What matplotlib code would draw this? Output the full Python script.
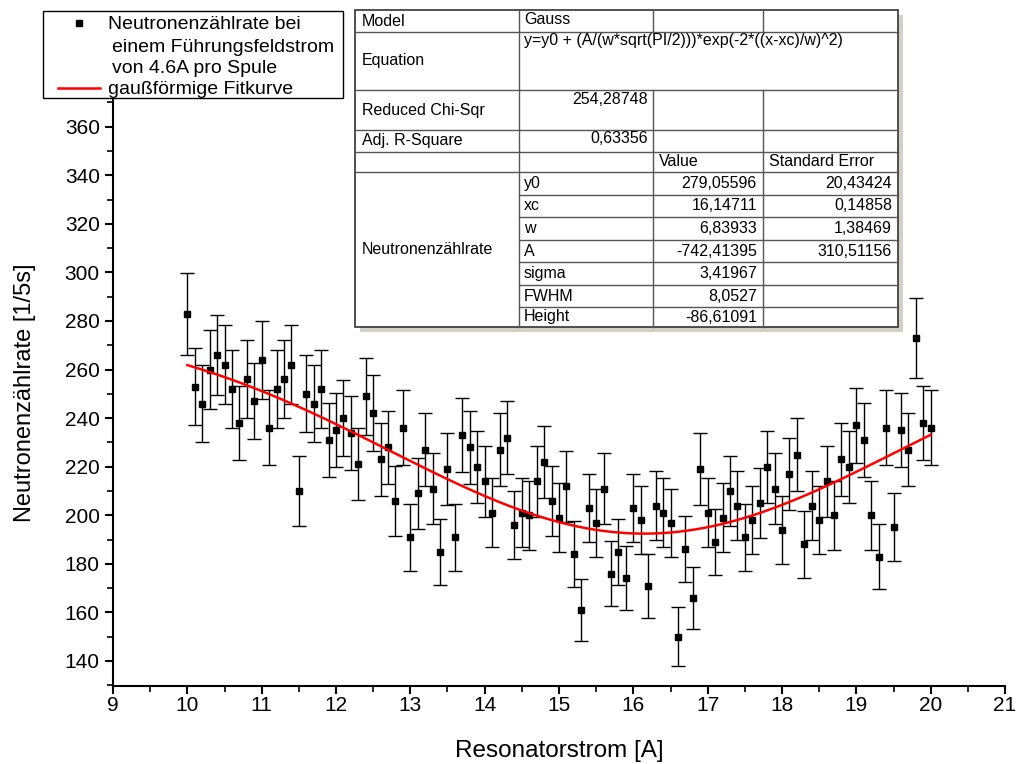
import numpy as np
import matplotlib
matplotlib.use("Agg")
import matplotlib.pyplot as plt
from matplotlib.patches import Rectangle
from matplotlib.lines import Line2D
from matplotlib.ticker import MultipleLocator

plt.rcParams['font.family'] = ['Liberation Sans', 'DejaVu Sans']

# Messdaten (Resonatorstrom in A, Zaehlrate pro 5 s)
strom = [10.0, 10.1, 10.2, 10.3, 10.4, 10.5, 10.6, 10.7, 10.8, 10.9,
         11.0, 11.1, 11.2, 11.3, 11.4, 11.5, 11.6, 11.7, 11.8, 11.9,
         12.0, 12.1, 12.2, 12.3, 12.4, 12.5, 12.6, 12.7, 12.8, 12.9,
         13.0, 13.1, 13.2, 13.3, 13.4, 13.5, 13.6, 13.7, 13.8, 13.9,
         14.0, 14.1, 14.2, 14.3, 14.4, 14.5, 14.6, 14.7, 14.8, 14.9,
         15.0, 15.1, 15.2, 15.3, 15.4, 15.5, 15.6, 15.7, 15.8, 15.9,
         16.0, 16.1, 16.2, 16.3, 16.4, 16.5, 16.6, 16.7, 16.8, 16.9,
         17.0, 17.1, 17.2, 17.3, 17.4, 17.5, 17.6, 17.7, 17.8, 17.9,
         18.0, 18.1, 18.2, 18.3, 18.4, 18.5, 18.6, 18.7, 18.8, 18.9,
         19.0, 19.1, 19.2, 19.3, 19.4, 19.5, 19.6, 19.7, 19.8, 19.9, 20.0]

rate = [283, 253, 246, 260, 266, 262, 252, 238, 256, 247,
        264, 236, 252, 256, 262, 210, 250, 246, 252, 231,
        235, 240, 234, 221, 249, 242, 223, 228, 206, 236,
        191, 209, 227, 211, 185, 219, 191, 233, 228, 220,
        214, 201, 227, 232, 196, 201, 200, 214, 222, 206,
        199, 212, 184, 161, 203, 197, 211, 176, 185, 174,
        203, 198, 171, 204, 201, 197, 150, 186, 166, 219,
        201, 189, 199, 210, 204, 191, 198, 205, 220, 211,
        194, 217, 225, 188, 204, 198, 214, 200, 223, 220,
        237, 231, 200, 183, 236, 195, 235, 227, 273, 238, 236]

fehler = [16.8, 15.9, 15.7, 16.1, 16.3, 16.2, 15.9, 15.4, 16.0, 15.7,
          16.2, 15.4, 15.9, 16.0, 16.2, 14.5, 15.8, 15.7, 15.9, 15.2,
          15.3, 15.5, 15.3, 14.9, 15.8, 15.6, 14.9, 15.1, 14.4, 15.4,
          13.8, 14.5, 15.1, 14.5, 13.6, 14.8, 13.8, 15.3, 15.1, 14.8,
          14.6, 14.2, 15.1, 15.2, 14.0, 14.2, 14.1, 14.6, 14.9, 14.4,
          14.1, 14.6, 13.6, 12.7, 14.2, 14.0, 14.5, 13.3, 13.6, 13.2,
          14.2, 14.1, 13.1, 14.3, 14.2, 14.0, 12.2, 13.6, 12.9, 14.8,
          14.2, 13.7, 14.1, 14.5, 14.3, 13.8, 14.1, 14.3, 14.8, 14.5,
          13.9, 14.7, 15.0, 13.7, 14.3, 14.1, 14.6, 14.1, 14.9, 14.8,
          15.4, 15.2, 14.1, 13.5, 15.4, 14.0, 15.3, 15.1, 16.5, 15.4, 15.4]

# Fitparameter (Gauss)
y0 = 279.05596
xc = 16.14711
w = 6.83933
A = -742.41395

# Tabelle
tab_rows = [
    ("Model", "Gauss", "", ""),
    ("Equation", "y=y0 + (A/(w*sqrt(PI/2)))*exp(-2*((x-xc)/w)^2)", "", ""),
    ("Reduced Chi-Sqr", "254,28748", "", ""),
    ("Adj. R-Square", "0,63356", "", ""),
    ("", "", "Value", "Standard Error"),
]
par_names = ["y0", "xc", "w", "A", "sigma", "FWHM", "Height"]
par_values = ["279,05596", "16,14711", "6,83933", "-742,41395", "3,41967", "8,0527", "-86,61091"]
par_errors = ["20,43424", "0,14858", "1,38469", "310,51156", "", "", ""]

W, H = 1018, 764
fig = plt.figure(figsize=(W / 100, H / 100), dpi=100)


def fx(px):
    return px / W


def fy(py):
    return 1 - py / H


ax = fig.add_axes([fx(113), fy(686), fx(1005) - fx(113), fy(100) - fy(686)])

ax.errorbar(strom, rate, yerr=fehler, fmt='s', color='black', ms=4.5,
            ecolor='black', elinewidth=1, capsize=5, capthick=1, zorder=3)

xfit = np.linspace(10, 20, 400)
yfit = y0 + (A / (w * np.sqrt(np.pi / 2))) * np.exp(-2 * ((xfit - xc) / w) ** 2)
ax.plot(xfit, yfit, color='red', lw=1.8, zorder=4)

ax.set_xlim(9, 21)
ax.set_ylim(129.7, 371)
ax.xaxis.set_major_locator(MultipleLocator(1))
ax.xaxis.set_minor_locator(MultipleLocator(0.5))
ax.yaxis.set_major_locator(MultipleLocator(20))
ax.yaxis.set_minor_locator(MultipleLocator(10))
ax.set_yticks(np.arange(140, 361, 20))
ax.spines['top'].set_visible(False)
ax.spines['right'].set_visible(False)
ax.spines['left'].set_linewidth(1.5)
ax.spines['bottom'].set_linewidth(1.5)
ax.tick_params(which='major', direction='out', length=6, width=1.5, labelsize=15)
ax.tick_params(which='minor', direction='out', length=4, width=1.2)
ax.tick_params(axis='x', which='major', pad=1)
ax.set_xlabel("Resonatorstrom [A]", fontsize=17.5, labelpad=18)
ax.set_ylabel("Neutronenzählrate [1/5s]", fontsize=17, labelpad=21)

# Legende (manuell)
fig.patches.append(Rectangle((fx(43), fy(98)), fx(343) - fx(43), fy(11) - fy(98),
                             transform=fig.transFigure, facecolor='white',
                             edgecolor='black', lw=1, zorder=5))
fig.lines.append(Line2D([fx(79)], [fy(23)], marker='s', ms=4, color='black',
                        transform=fig.transFigure, zorder=6))
fig.lines.append(Line2D([fx(58), fx(100)], [fy(88), fy(88)], color='red', lw=1.8,
                        transform=fig.transFigure, zorder=6))
leg_lines = [(108, 29, "Neutronenzählrate bei"),
             (112, 52, "einem Führungsfeldstrom"),
             (112, 73, "von 4.6A pro Spule"),
             (108, 94, "gaußförmige Fitkurve")]
for px, py, s in leg_lines:
    fig.text(fx(px), fy(py), s, fontsize=14, va='baseline', ha='left', zorder=7)

# Tabelle (manuell)
cols = [355, 519, 653, 763, 898]
rows = [10, 32, 90, 130, 152, 172, 195, 217, 240, 262, 285, 307, 327]
tx0, tx1, ty0, ty1 = cols[0], cols[-1], rows[0], rows[-1]
fig.patches.append(Rectangle((fx(tx0 + 5), fy(ty1 + 5)), fx(tx1 - tx0), fy(ty0) - fy(ty1),
                             transform=fig.transFigure, facecolor='#d4d0c8',
                             edgecolor='none', zorder=5))
fig.patches.append(Rectangle((fx(tx0), fy(ty1)), fx(tx1 - tx0), fy(ty0) - fy(ty1),
                             transform=fig.transFigure, facecolor='white',
                             edgecolor='#333333', lw=1.2, zorder=6))
gc = '#555555'
# horizontale Linien
for i, r in enumerate(rows[1:-1], start=1):
    x_start = cols[1] if i >= 6 else cols[0]
    fig.lines.append(Line2D([fx(x_start), fx(tx1)], [fy(r), fy(r)], color=gc, lw=1,
                            transform=fig.transFigure, zorder=7))
# vertikale Linien
for j, c in enumerate(cols[1:-1], start=1):
    if j >= 2:
        # in der Equation-Zeile keine Trennlinien
        fig.lines.append(Line2D([fx(c), fx(c)], [fy(rows[0]), fy(rows[1])], color=gc, lw=1,
                                transform=fig.transFigure, zorder=7))
        fig.lines.append(Line2D([fx(c), fx(c)], [fy(rows[2]), fy(ty1)], color=gc, lw=1,
                                transform=fig.transFigure, zorder=7))
    else:
        fig.lines.append(Line2D([fx(c), fx(c)], [fy(ty0), fy(ty1)], color=gc, lw=1,
                                transform=fig.transFigure, zorder=7))

tfs = 11.5
pad = 7
# linke Spalte
for k in range(4):
    fig.text(fx(cols[0] + pad), fy((rows[k] + rows[k + 1]) / 2), tab_rows[k][0],
             fontsize=tfs, va='center', zorder=8)
fig.text(fx(cols[0] + pad), fy((rows[5] + rows[-1]) / 2), "Neutronenzählrate", fontsize=tfs, va='center', zorder=8)
# Kopfzeilen
fig.text(fx(cols[1] + 5), fy(rows[0] + 2), tab_rows[0][1], fontsize=tfs, va='top', zorder=8)
fig.text(fx(cols[1] + 5), fy(rows[1] + 1), tab_rows[1][1], fontsize=tfs, va='top', zorder=8)
fig.text(fx(cols[2] - 5), fy(rows[2] + 2), tab_rows[2][1], fontsize=tfs, va='top', ha='right', zorder=8)
fig.text(fx(cols[2] - 5), fy(rows[3] + 1), tab_rows[3][1], fontsize=tfs, va='top', ha='right', zorder=8)
fig.text(fx(cols[2] + 6), fy((rows[4] + rows[5]) / 2), tab_rows[4][2], fontsize=tfs, va='center', zorder=8)
fig.text(fx(cols[3] + 6), fy((rows[4] + rows[5]) / 2), tab_rows[4][3], fontsize=tfs, va='center', zorder=8)
# Parameter
for k in range(len(par_names)):
    yc = fy((rows[5 + k] + rows[6 + k]) / 2)
    fig.text(fx(cols[1] + 5), yc, par_names[k], fontsize=tfs, va='center', zorder=8)
    fig.text(fx(cols[3] - 6), yc, par_values[k], fontsize=tfs, va='center', ha='right', zorder=8)
    if par_errors[k]:
        fig.text(fx(cols[4] - 6), yc, par_errors[k], fontsize=tfs, va='center', ha='right', zorder=8)

fig.savefig("out.png", dpi=100)
